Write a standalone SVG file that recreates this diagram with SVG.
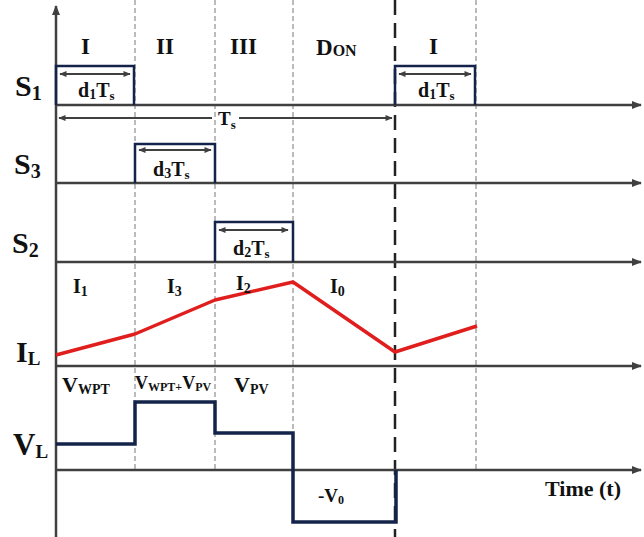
<svg xmlns="http://www.w3.org/2000/svg" width="644" height="537" viewBox="0 0 644 537">
<style>
text{font-family:"Liberation Serif","Times New Roman",serif;font-weight:bold;fill:#111}
.ax{stroke:#404040;stroke-width:2.5;fill:none}
.dash{stroke:#777;stroke-width:1;stroke-dasharray:5,3;fill:none}
.ldash{stroke:#222;stroke-width:2.5;stroke-dasharray:15,8;fill:none}
.pulse{stroke:#14234a;stroke-width:2.5;fill:none}
.dim{stroke:#404040;stroke-width:1.8;fill:none}
.il{stroke:#e01e1e;stroke-width:3.5;fill:none;stroke-linejoin:round}
.vl{stroke:#14234a;stroke-width:3.5;fill:none}
</style>
<defs>
<marker id="ah" viewBox="0 0 10 10" refX="9" refY="5" markerWidth="4" markerHeight="4" orient="auto-start-reverse" markerUnits="strokeWidth">
<path d="M0,1 L10,5 L0,9 z" fill="#404040"/>
</marker>
<marker id="sm" viewBox="0 0 10 10" refX="9" refY="5" markerWidth="5" markerHeight="4" orient="auto-start-reverse" markerUnits="strokeWidth">
<path d="M0,1 L10,5 L0,9 z" fill="#404040"/>
</marker>
</defs>
<rect width="644" height="537" fill="#fff"/>
<g id="grid">
<line class="dash" x1="135" y1="0" x2="135" y2="470"/>
<line class="dash" x1="215" y1="0" x2="215" y2="470"/>
<line class="dash" x1="293" y1="0" x2="293" y2="470"/>
<line class="dash" x1="476" y1="0" x2="476" y2="470"/>
<line class="ldash" x1="395" y1="0" x2="395" y2="537"/>
</g>
<g id="connectors">
<line class="ax" x1="56" y1="537" x2="56" y2="6" marker-end="url(#ah)"/>
<line class="ax" x1="56" y1="105" x2="641" y2="105" marker-end="url(#ah)"/>
<line class="ax" x1="56" y1="183" x2="641" y2="183" marker-end="url(#ah)"/>
<line class="ax" x1="56" y1="262" x2="641" y2="262" marker-end="url(#ah)"/>
<line class="ax" x1="56" y1="366" x2="641" y2="366" marker-end="url(#ah)"/>
<line class="ax" x1="56" y1="470" x2="641" y2="470" marker-end="url(#ah)"/>
<line class="dim" x1="59" y1="118" x2="212" y2="118" marker-start="url(#sm)"/>
<line class="dim" x1="239" y1="118" x2="392" y2="118" marker-end="url(#sm)"/>
</g>
<g id="S1">
<text x="15" y="96" font-size="30">S<tspan font-size="20" dy="4">1</tspan></text>
<polyline class="pulse" points="56,105 56,66 134,66 134,105"/>
<line class="dim" x1="60" y1="74" x2="130" y2="74" marker-start="url(#sm)" marker-end="url(#sm)"/>
<text x="78" y="97" font-size="20">d<tspan font-size="14" dy="2">1</tspan><tspan dy="-2">T</tspan><tspan font-size="13" dy="3">s</tspan></text>
<polyline class="pulse" points="395,105 395,66 475,66 475,105"/>
<line class="dim" x1="399" y1="74" x2="471" y2="74" marker-start="url(#sm)" marker-end="url(#sm)"/>
<text x="418" y="97" font-size="20">d<tspan font-size="14" dy="2">1</tspan><tspan dy="-2">T</tspan><tspan font-size="13" dy="3">s</tspan></text>
</g>
<g id="Ts">
<text x="218" y="125" font-size="19">T<tspan font-size="13" dy="4">s</tspan></text>
</g>
<g id="S3">
<text x="14" y="174" font-size="30">S<tspan font-size="20" dy="4">3</tspan></text>
<polyline class="pulse" points="135,183 135,144 215,144 215,183"/>
<line class="dim" x1="139" y1="150" x2="211" y2="150" marker-start="url(#sm)" marker-end="url(#sm)"/>
<text x="153" y="176" font-size="20">d<tspan font-size="14" dy="2">3</tspan><tspan dy="-2">T</tspan><tspan font-size="13" dy="3">s</tspan></text>
</g>
<g id="S2">
<text x="12" y="253" font-size="30">S<tspan font-size="20" dy="4">2</tspan></text>
<polyline class="pulse" points="215,262 215,222 293,222 293,262"/>
<line class="dim" x1="219" y1="230" x2="288" y2="230" marker-start="url(#sm)" marker-end="url(#sm)"/>
<text x="233" y="255" font-size="20">d<tspan font-size="14" dy="2">2</tspan><tspan dy="-2">T</tspan><tspan font-size="13" dy="3">s</tspan></text>
</g>
<g id="phases">
<text x="81" y="54" font-size="23">I</text>
<text x="156" y="54" font-size="23">II</text>
<text x="230" y="54" font-size="23">III</text>
<text x="316" y="55" font-size="23">D<tspan font-size="16" dy="1">ON</tspan></text>
<text x="429" y="54" font-size="23">I</text>
</g>
<g id="IL">
<text x="16" y="362" font-size="30">I<tspan font-size="19" dy="3">L</tspan></text>
<polyline class="il" points="56,355 135,334 215,300 293,282 395,352 477,326"/>
<text x="73" y="293" font-size="20">I<tspan font-size="14" dy="3">1</tspan></text>
<text x="167" y="293" font-size="20">I<tspan font-size="14" dy="3">3</tspan></text>
<text x="236" y="290" font-size="20">I<tspan font-size="14" dy="3">2</tspan></text>
<text x="330" y="293" font-size="20">I<tspan font-size="14" dy="3">0</tspan></text>
</g>
<g id="VL">
<text x="13" y="455" font-size="31">V<tspan font-size="19" dy="3">L</tspan></text>
<polyline class="vl" points="56,444 135,444 135,402 215,402 215,433 293,433 293,522 396,522 396,470"/>
<text x="62" y="392" font-size="22">V<tspan font-size="14" dy="2">WPT</tspan></text>
<text x="135" y="389" font-size="18">V<tspan font-size="12" dy="2">WPT+</tspan><tspan dy="-2">V</tspan><tspan font-size="12" dy="2">PV</tspan></text>
<text x="234" y="392" font-size="22">V<tspan font-size="14" dy="2">PV</tspan></text>
<text x="318" y="502" font-size="19">-V<tspan font-size="12" dy="2">0</tspan></text>
<text x="545" y="496" font-size="22">Time (t)</text>
</g>
</svg>
